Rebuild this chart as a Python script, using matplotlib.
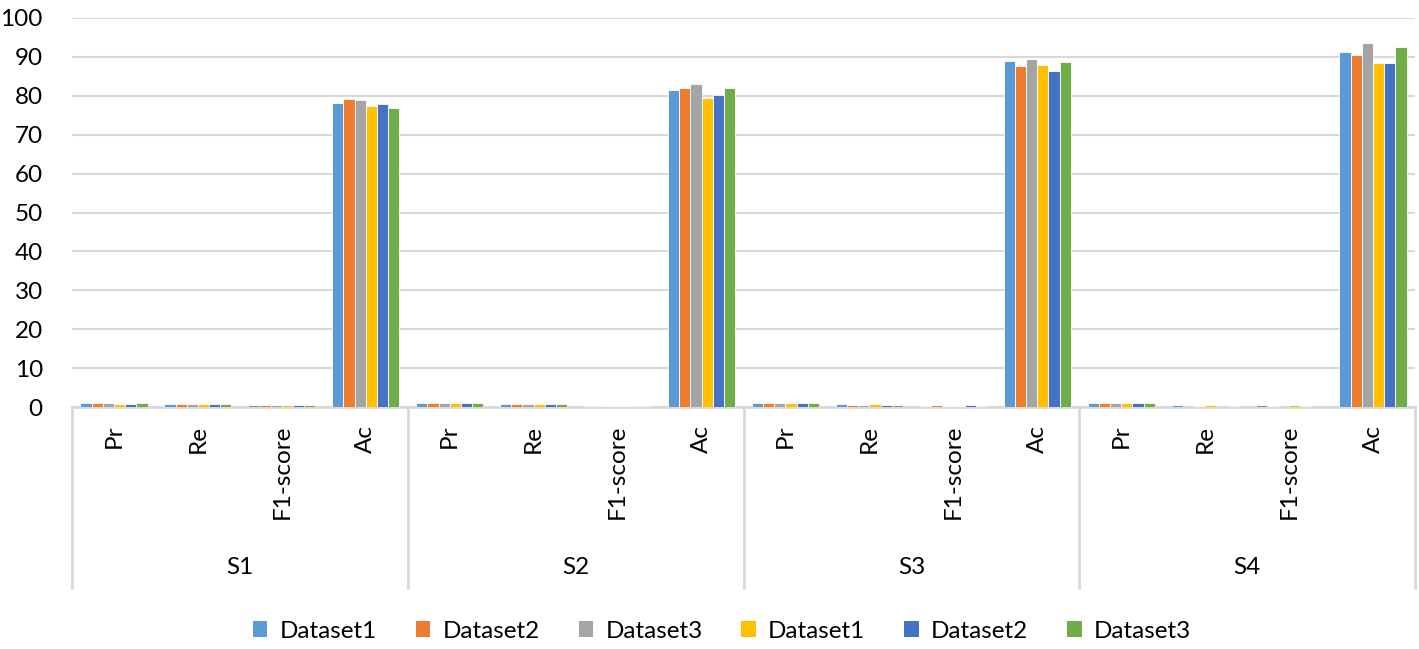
import matplotlib
matplotlib.use("Agg")
import matplotlib.pyplot as plt
import matplotlib.transforms as mtransforms
from matplotlib.patches import Patch
from matplotlib.lines import Line2D
import numpy as np

plt.rcParams['font.family'] = ['Lato', 'DejaVu Sans']

groups = ["S1", "S2", "S3", "S4"]
metrics = ["Pr", "Re", "F1-score", "Ac"]
series_names = ["Dataset1", "Dataset2", "Dataset3", "Dataset1", "Dataset2", "Dataset3"]
colors = ["#5B9BD5", "#ED7D31", "#A5A5A5", "#FFC000", "#4472C4", "#70AD47"]

# values per series, ordered S1(Pr,Re,F1,Ac), S2(...), S3(...), S4(...)
s_dataset1_a = [0.90, 0.82, 0.45, 78.2,  0.92, 0.72, 0.38, 81.5,  0.94, 0.68, 0.30, 89.0,  0.92, 0.40, 0.42, 91.3]
s_dataset2_a = [0.91, 0.78, 0.42, 79.1,  0.93, 0.70, 0.32, 82.1,  0.92, 0.62, 0.45, 87.7,  0.92, 0.10, 0.32, 90.4]
s_dataset3_a = [0.92, 0.84, 0.48, 78.9,  0.91, 0.72, 0.38, 83.0,  0.90, 0.64, 0.30, 89.5,  0.90, 0.35, 0.10, 93.7]
s_dataset1_b = [0.89, 0.80, 0.44, 77.3,  0.90, 0.72, 0.36, 79.4,  0.92, 0.68, 0.34, 88.0,  0.91, 0.42, 0.40, 88.4]
s_dataset2_b = [0.88, 0.74, 0.40, 78.0,  0.92, 0.68, 0.34, 80.2,  0.90, 0.62, 0.45, 86.3,  0.90, 0.10, 0.32, 88.4]
s_dataset3_b = [0.90, 0.82, 0.42, 76.9,  0.91, 0.72, 0.32, 81.9,  0.92, 0.64, 0.30, 88.8,  0.92, 0.35, 0.10, 92.5]
series_values = [s_dataset1_a, s_dataset2_a, s_dataset3_a, s_dataset1_b, s_dataset2_b, s_dataset3_b]

W, H = 1419, 649
FS = 17.5
fig = plt.figure(figsize=(W / 100, H / 100), dpi=100)
ax = fig.add_axes([72 / W, 1 - 407 / H, (1415 - 72) / W, (407 - 18) / H])

n_cat = len(groups) * len(metrics)
x = np.arange(n_cat)
n_s = len(series_values)
bw = 0.8 / n_s
for i, (vals, c) in enumerate(zip(series_values, colors)):
    ax.bar(x - 0.4 + bw * (i + 0.5), vals, width=bw, color=c, edgecolor="white",
           linewidth=0.6, zorder=3)

ax.set_xlim(-0.5, n_cat - 0.5)
ax.set_ylim(0, 100)
ax.set_yticks(np.arange(0, 101, 10))
ax.yaxis.grid(True, color="#D9D9D9", linewidth=1.5, zorder=0)
ax.set_axisbelow(True)
ax.tick_params(axis="y", length=0, labelsize=FS, pad=21)
ax.set_xticks([])
for sp in ["top", "right", "left"]:
    ax.spines[sp].set_visible(False)
ax.spines["bottom"].set_color("#D9D9D9")
ax.spines["bottom"].set_linewidth(2)

trans = mtransforms.blended_transform_factory(ax.transData, fig.transFigure)
y_top = 1 - 407 / H
y_bot = 1 - 588 / H
# group separator lines
for b in range(len(groups) + 1):
    xb = -0.5 + b * len(metrics)
    fig.add_artist(Line2D([xb, xb], [y_top, y_bot], transform=trans,
                          color="#D9D9D9", linewidth=2))

# metric labels
for gi, g in enumerate(groups):
    for mi, m in enumerate(metrics):
        xc = gi * len(metrics) + mi
        fig.text(xc, 1 - 425 / H, m, transform=trans, rotation=90,
                 ha="center", va="top", fontsize=FS)
    xg = gi * len(metrics) + (len(metrics) - 1) / 2
    fig.text(xg, 1 - 567 / H, g, transform=trans, ha="center", va="center",
             fontsize=FS)

handles = [Patch(facecolor=c, edgecolor="none") for c in colors]
fig.legend(handles, series_names, loc="center", bbox_to_anchor=(722 / W, 1 - 631 / H),
           ncol=6, frameon=False, fontsize=FS, handlelength=0.6, handleheight=0.6,
           handletextpad=0.5, columnspacing=1.6)

fig.savefig("out.png", dpi=100, facecolor="white")
